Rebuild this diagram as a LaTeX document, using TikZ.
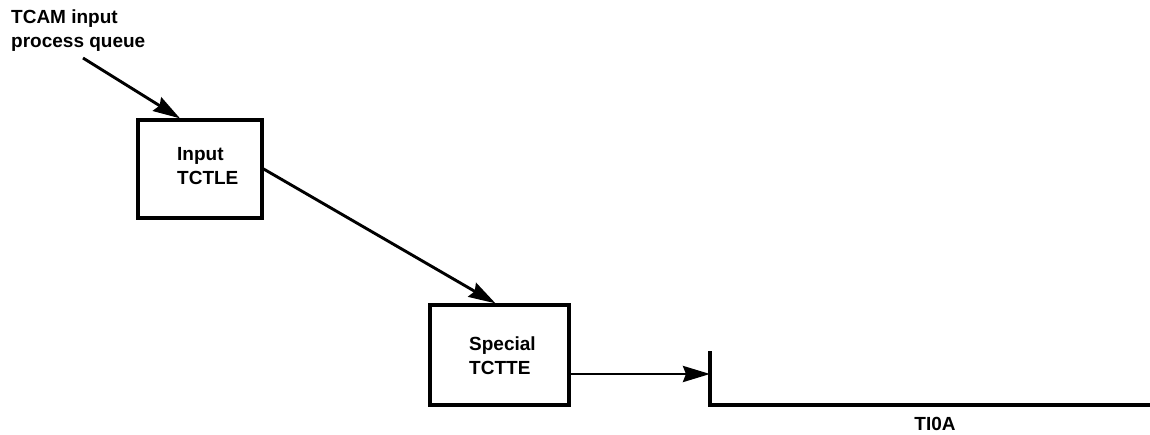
\documentclass[tikz,border=0pt]{standalone}
\usepackage{fontspec}
\setmainfont{Liberation Sans}
\usetikzlibrary{arrows.meta}
\begin{document}
\begin{tikzpicture}[x=1pt,y=-1pt,
  lbl/.style={font=\fontsize{19}{24}\selectfont\bfseries, inner sep=0pt, align=left},
  box/.style={draw, line width=3.3pt, inner sep=0pt, fill=white},
  conn/.style={line width=2.9pt, -{Stealth[length=27pt,width=16pt,inset=3pt]}},
  bar/.style={line width=3.3pt}]
\useasboundingbox (0,0) rectangle (1150,434);
\fill[white] (0,0) rectangle (1150,434);
% boxes
\node[box, minimum width=124pt, minimum height=98pt] (b1) at (200,169) {};
\node[box, minimum width=139pt, minimum height=100pt] (b2) at (499.5,355) {};
% texts
\node[lbl, anchor=north west] (q) at (11,10) {TCAM input\\process queue};
\node[lbl, anchor=north west] (t1) at (177,147) {Input\\TCTLE};
\node[lbl, anchor=north west] (t2) at (469,337) {Special\\TCTTE};
\node[lbl, anchor=base] (t3) at (935,430) {TI0A};
% line structure
\coordinate (a0) at (83,58);
\coordinate (bt) at (710,353);
\coordinate (bm) at (710,374);
\coordinate (bb) at (710,405);
\coordinate (be) at (1150,405);
\draw[bar, line cap=rect] (bt) -- (bb) -- (be);
% connectors
\draw[conn] (a0) -- ([xshift=-20pt]b1.north);
\draw[conn] (b1.east) -- ([xshift=-4pt]b2.north);
\draw[conn] ([yshift=-19pt]b2.east) -- (bm);
\end{tikzpicture}
\end{document}
